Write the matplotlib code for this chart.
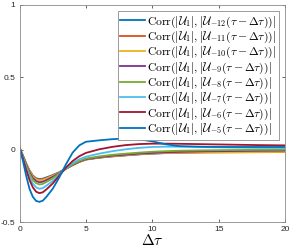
import matplotlib
matplotlib.use("Agg")
import matplotlib.pyplot as plt

plt.rcParams['mathtext.fontset'] = 'cm'
plt.rcParams['font.family'] = ['Liberation Sans', 'DejaVu Sans']

dtau = [0, 0.25, 0.5, 0.75, 1, 1.25, 1.5, 1.75, 2, 2.5, 3, 3.5, 4, 4.5, 5, 6, 7, 8, 9, 10, 11, 12, 14, 16, 18, 20]

corr_m12 = [0.015, -0.04, -0.095, -0.143, -0.178, -0.197, -0.203, -0.2, -0.192, -0.175, -0.155, -0.13, -0.106, -0.084, -0.068, -0.055, -0.046, -0.039, -0.032, -0.027, -0.023, -0.02, -0.016, -0.014, -0.013, -0.012]
corr_m11 = [0.015, -0.04, -0.096, -0.145, -0.181, -0.201, -0.207, -0.204, -0.196, -0.178, -0.157, -0.131, -0.106, -0.084, -0.067, -0.054, -0.045, -0.038, -0.031, -0.026, -0.023, -0.021, -0.019, -0.018, -0.017, -0.016]
corr_m10 = [0.015, -0.041, -0.098, -0.148, -0.185, -0.205, -0.212, -0.209, -0.2, -0.181, -0.158, -0.131, -0.105, -0.083, -0.066, -0.053, -0.044, -0.037, -0.03, -0.025, -0.022, -0.02, -0.018, -0.017, -0.016, -0.015]
corr_m9 = [0.015, -0.043, -0.103, -0.156, -0.195, -0.217, -0.225, -0.221, -0.211, -0.188, -0.161, -0.131, -0.104, -0.082, -0.065, -0.051, -0.041, -0.034, -0.027, -0.022, -0.018, -0.015, -0.011, -0.009, -0.007, -0.006]
corr_m8 = [0.015, -0.046, -0.11, -0.166, -0.208, -0.231, -0.24, -0.236, -0.224, -0.197, -0.165, -0.131, -0.101, -0.078, -0.061, -0.046, -0.035, -0.027, -0.02, -0.014, -0.01, -0.007, -0.004, -0.002, -0.001, 0.0]
corr_m7 = [0.015, -0.052, -0.124, -0.187, -0.234, -0.26, -0.27, -0.265, -0.25, -0.215, -0.172, -0.128, -0.092, -0.066, -0.048, -0.027, -0.01, 0.003, 0.013, 0.019, 0.021, 0.021, 0.018, 0.015, 0.013, 0.012]
corr_m6 = [0.015, -0.058, -0.138, -0.208, -0.26, -0.29, -0.3, -0.294, -0.276, -0.233, -0.178, -0.123, -0.078, -0.045, -0.022, 0.003, 0.02, 0.032, 0.039, 0.042, 0.042, 0.041, 0.038, 0.035, 0.032, 0.03]
corr_m5 = [0.012, -0.075, -0.18, -0.27, -0.325, -0.354, -0.36, -0.352, -0.328, -0.27, -0.19, -0.1, -0.02, 0.03, 0.055, 0.065, 0.073, 0.078, 0.072, 0.058, 0.038, 0.025, 0.02, 0.019, 0.019, 0.019]

series = [corr_m12, corr_m11, corr_m10, corr_m9, corr_m8, corr_m7, corr_m6, corr_m5]
indices = ['-12', '-11', '-10', '-9', '-8', '-7', '-6', '-5']
colors = ['#0072BD', '#D95319', '#EDB120', '#7E2F8E', '#77AC30', '#4DBEEE', '#A2142F', '#0072BD']

fig = plt.figure(figsize=(2.96, 2.49), dpi=100)
ax = fig.add_axes([0.066, 0.108, 0.897, 0.872])

for vals, idx, c in zip(series, indices, colors):
    lab = r'$\mathrm{Corr}(|\mathcal{U}_1|, |\mathcal{U}_{' + idx + r'}(\tau - \Delta\tau))|$'
    ax.plot(dtau, vals, color=c, linewidth=1.3, label=lab)

ax.set_xlim(0, 20)
ax.set_ylim(-0.5, 1)
ax.set_xticks([0, 5, 10, 15, 20])
ax.set_yticks([-0.5, 0, 0.5, 1])
ax.set_yticklabels(['-0.5', '0', '0.5', '1'])
ax.tick_params(direction='in', top=True, right=True, labelsize=6, length=2.5, width=0.5, colors='#262626', pad=3)
for s in ax.spines.values():
    s.set_color('#8c8c8c')
    s.set_linewidth(0.6)
ax.set_xlabel(r'$\Delta\tau$', fontsize=11, labelpad=0)

leg = ax.legend(loc='upper right', fontsize=8.4, fancybox=False, edgecolor='#8c8c8c',
                handlelength=2.1, handletextpad=0.15, borderpad=0.25, labelspacing=0.0,
                borderaxespad=0.55, framealpha=1)
leg.get_frame().set_linewidth(0.6)

fig.savefig('out.png', dpi=100)
